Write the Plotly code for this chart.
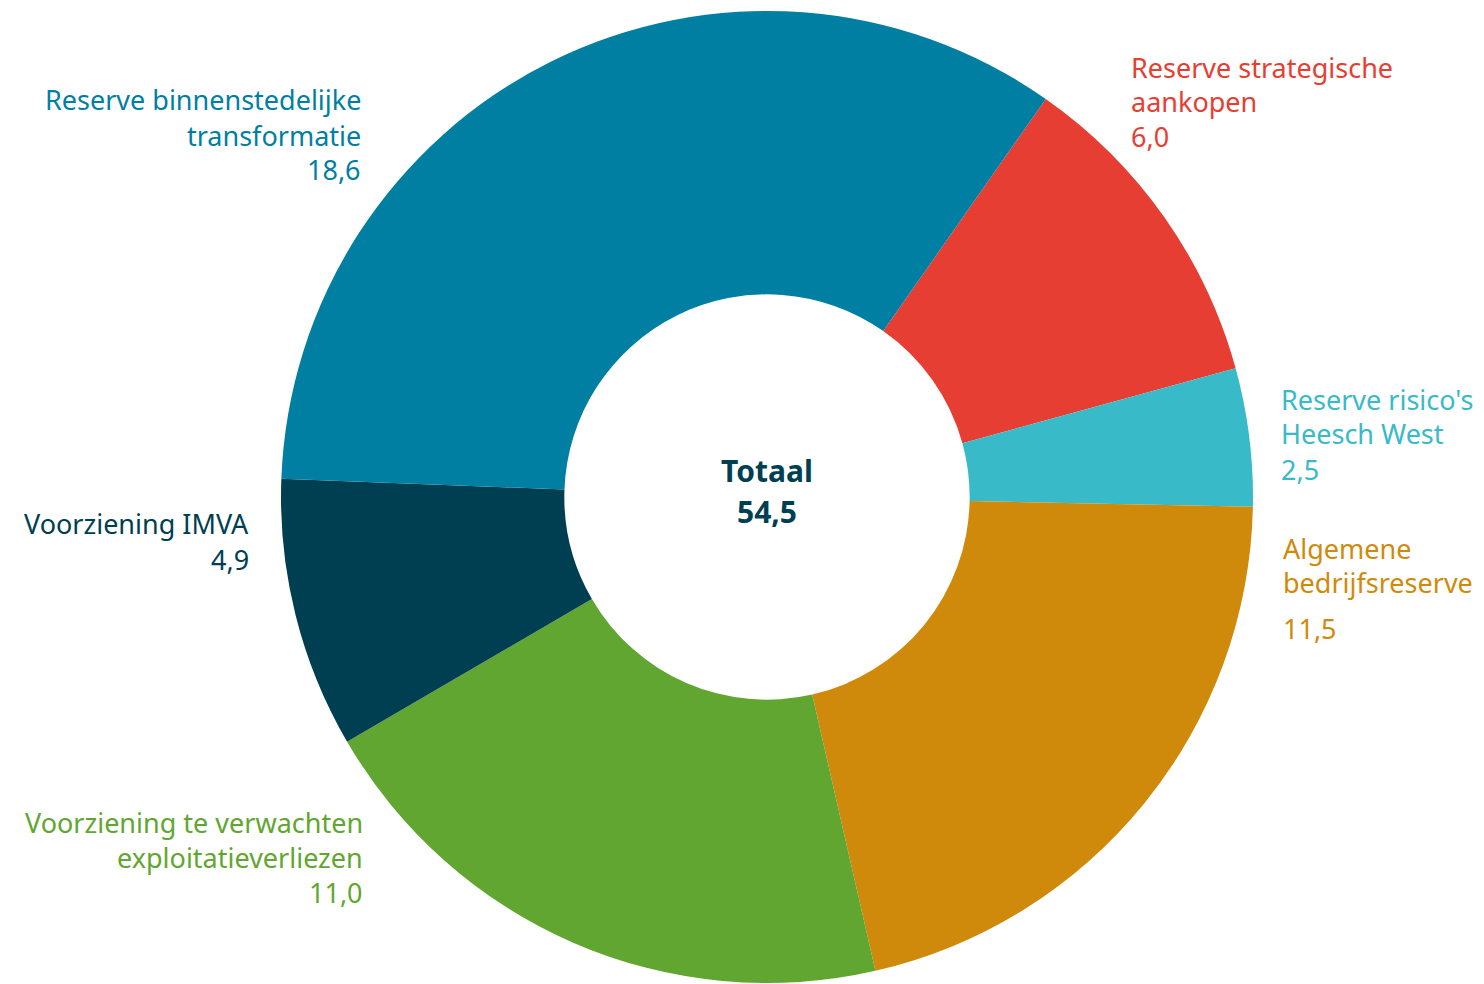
import plotly.graph_objects as go

labels = ["Reserve strategische aankopen", "Reserve risico's Heesch West", "Algemene bedrijfsreserve",
          "Voorziening te verwachten exploitatieverliezen", "Voorziening IMVA", "Reserve binnenstedelijke transformatie"]
values = [6.0, 2.5, 11.5, 11.0, 4.9, 18.6]
value_labels = ["6,0", "2,5", "11,5", "11,0", "4,9", "18,6"]
colors = ["#e63e32", "#38bac8", "#d08a0b", "#61a630", "#003f52", "#007fa3"]
total_label = "54,5"

OFF = 8  # default page body margin
W, H = 1484 - OFF, 984 - OFF
cx, cy, R = 767 - OFF, 497 - OFF, 486


def px(x):
    return (x - OFF) / W


def py(y):
    return 1 - (y - OFF) / H


fig = go.Figure(go.Pie(
    labels=labels, values=values, sort=False, direction="clockwise", rotation=35,
    hole=0.417, marker=dict(colors=colors, line=dict(width=0)),
    textinfo="none", hoverinfo="label+value", showlegend=False,
    domain=dict(x=[(cx - R) / W, (cx + R) / W], y=[max(0, (H - cy - R) / H), (H - cy + R) / H]),
))

FONT = "Noto Sans"
label_specs = [
    (["Reserve strategische", "aankopen", value_labels[0]], 1129, "left", [67, 101, 136], colors[0]),
    (["Reserve risico's", "Heesch West", value_labels[1]], 1279, "left", [399, 433, 469], colors[1]),
    (["Algemene", "bedrijfsreserve", value_labels[2]], 1281, "left", [548, 582, 628], colors[2]),
    (["Voorziening te verwachten", "exploitatieverliezen", value_labels[3]], 365, "right", [822, 857, 892], colors[3]),
    (["Voorziening IMVA", value_labels[4]], 251, "right", [523, 559], colors[4]),
    (["Reserve binnenstedelijke", "transformatie", value_labels[5]], 363, "right", [100, 135, 170], colors[5]),
]

annotations = []
for lines, x, anchor, ys, col in label_specs:
    for line, y in zip(lines, ys):
        annotations.append(dict(
            text=line, x=px(x), y=py(y), xref="paper", yref="paper",
            xanchor=anchor, yanchor="middle", showarrow=False,
            font=dict(family=FONT, size=27, color=col),
        ))

for line, y in zip(["<b>Totaal</b>", "<b>" + total_label + "</b>"], [470, 511]):
    annotations.append(dict(
        text=line, x=px(767), y=py(y), xref="paper", yref="paper",
        xanchor="center", yanchor="middle", showarrow=False,
        font=dict(family=FONT, size=30, color="#003f52"),
    ))

fig.update_layout(
    width=W, height=H, margin=dict(l=0, r=0, t=0, b=0),
    paper_bgcolor="white", plot_bgcolor="white",
    annotations=annotations,
)

fig.write_html("out.html")
